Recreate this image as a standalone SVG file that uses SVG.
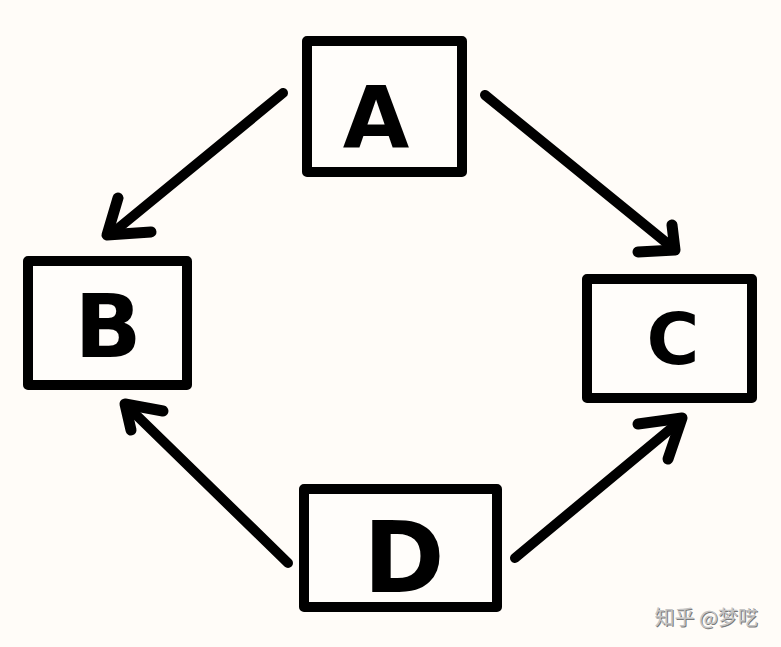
<svg xmlns="http://www.w3.org/2000/svg" width="781" height="647" viewBox="0 0 781 647">
<style>
.box{fill:#fffdfa;stroke:#000;stroke-width:10;stroke-linejoin:round}
.lbl{font-family:"DejaVu Sans","Liberation Sans",sans-serif;font-weight:bold;fill:#000;text-anchor:middle}
.edge{fill:none;stroke:#000;stroke-width:10;stroke-linecap:round;stroke-linejoin:round}
.head{fill:none;stroke:#000;stroke-width:11;stroke-linecap:round;stroke-linejoin:round}
.wm{font-family:"Noto Sans CJK SC","Noto Sans",sans-serif;font-size:20px;text-anchor:end}
</style>
<rect width="781" height="647" fill="#fffcf8"/>
<g id="connectors">
<path class="edge" d="M283,93 L110,235"/>
<path class="head" d="M118,198 L107,235 L151,232"/>
<path class="edge" d="M485,95 L673,248"/>
<path class="head" d="M672,225 L675,250 L638,252"/>
<path class="edge" d="M515,558 L680,421"/>
<path class="head" d="M638,424 L682,418 L668,459"/>
<path class="edge" d="M288,563 L127,406"/>
<path class="head" d="M131,430 L125,404 L163,411"/>
</g>
<g id="A">
<rect class="box" x="307" y="41" width="155" height="131"/>
<text class="lbl" x="376" y="147" font-size="86">A</text>
</g>
<g id="B">
<rect class="box" x="28" y="261" width="159" height="124"/>
<text class="lbl" x="108" y="357" font-size="88">B</text>
</g>
<g id="C">
<rect class="box" x="587" y="279" width="165" height="119"/>
<text class="lbl" x="673" y="364" font-size="72">C</text>
</g>
<g id="D">
<rect class="box" x="304" y="489" width="193" height="118"/>
<text class="lbl" x="404" y="592" font-size="98">D</text>
</g>
<g id="watermark">
<text class="wm" x="758" y="625" fill="#7a7a7a" dx="1" dy="1">知乎 @梦呓</text>
<text class="wm" x="758" y="625" fill="#c4c4c4">知乎 @梦呓</text>
</g>
</svg>
